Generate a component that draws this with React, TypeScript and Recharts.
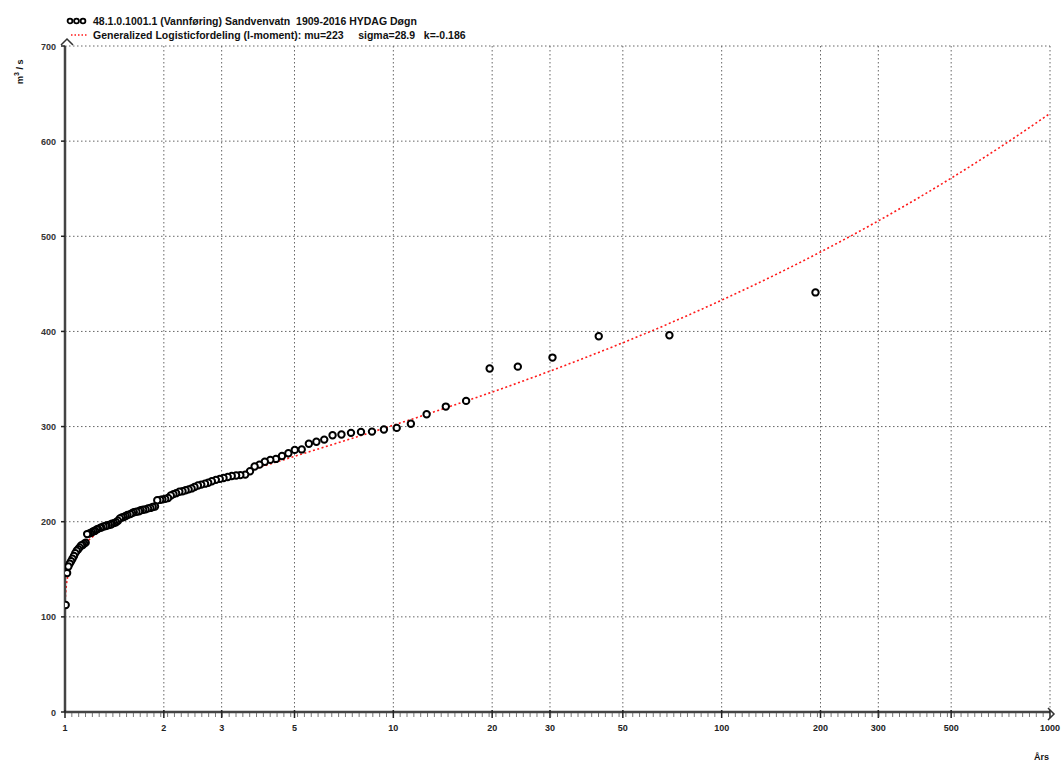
import React from "react";
import {
  CartesianGrid,
  ComposedChart,
  Line,
  Scatter,
  XAxis,
  YAxis,
} from "recharts";

// observed annual maxima, sorted from largest to smallest, with plotted return periods (years)
const returnPeriods = [
  193.07, 69.31, 42.23, 30.53, 23.94, 19.65, 16.66, 14.45, 12.63, 11.31,
  10.24, 9.36, 8.61, 7.97, 7.43, 6.95, 6.53, 6.16, 5.83, 5.53,
  5.26, 5.01, 4.79, 4.58, 4.39, 4.22, 4.06, 3.91, 3.78, 3.66,
  3.54, 3.42, 3.32, 3.22, 3.13, 3.04, 2.96, 2.88, 2.8, 2.73,
  2.67, 2.6, 2.54, 2.48, 2.43, 2.38, 2.33, 2.28, 2.23, 2.18,
  2.14, 2.1, 2.06, 2.02, 1.98, 1.95, 1.91, 1.88, 1.85, 1.82,
  1.79, 1.76, 1.73, 1.7, 1.68, 1.65, 1.62, 1.6, 1.58, 1.55,
  1.53, 1.51, 1.49, 1.47, 1.45, 1.43, 1.41, 1.39, 1.38, 1.36,
  1.34, 1.33, 1.31, 1.29, 1.28, 1.26, 1.25, 1.235, 1.221, 1.207,
  1.194, 1.181, 1.168, 1.156, 1.144, 1.132, 1.12, 1.108, 1.097, 1.086,
  1.075, 1.065, 1.054, 1.044, 1.034, 1.024, 1.015, 1.005,
];

const observedFlows = [
  441, 396, 395, 372.5, 363, 361, 327, 321, 313, 303,
  298.6, 297, 294.7, 294.4, 293.4, 291.6, 290.9, 286.3, 284, 282,
  276, 275.5, 272, 269, 266, 265, 263, 260, 258, 253,
  249.5, 249, 248.5, 248, 247, 246, 245, 244, 242.5, 241,
  240, 239, 238, 236.5, 235, 234, 233, 232, 231.5, 230,
  229, 227.5, 225, 224, 223.5, 223, 222.5, 216, 215.5, 214.5,
  214, 213, 212.5, 212, 211, 210.5, 210, 209, 208, 207,
  206, 205, 204.5, 203.5, 201, 199.5, 198.5, 198, 197, 196.5,
  196, 195.5, 195, 194, 193.5, 192.5, 192, 190.5, 190, 189,
  188, 187.5, 187, 178, 177, 175.5, 175, 173, 171, 169.5,
  167, 164, 161, 158.5, 156, 153, 146, 112.5,
];

// fitted generalized logistic curve, read along its length
const curvePeriods = [
  1.003, 1.005, 1.01, 1.02, 1.03, 1.05, 1.07, 1.1, 1.15, 1.2,
  1.3, 1.4, 1.5, 1.7, 2, 2.5, 3, 4, 5, 7,
  10, 15, 20, 30, 50, 70, 100, 150, 200, 300,
  500, 700, 1000,
];
const curveFlows = [
  121, 125.6, 133.6, 142.7, 148.6, 156.6, 162.4, 168.9, 176.8, 182.8,
  191.8, 198.7, 204.2, 213, 223, 235.2, 244.4, 258.2, 268.7, 284.4,
  301.4, 321.5, 336.3, 358.3, 388.1, 409.1, 432.9, 461.7, 483.5, 516.2,
  561.1, 593, 629.1,
];

const xTicks = [1, 2, 3, 5, 10, 20, 30, 50, 100, 200, 300, 500, 1000];
const yTicks = [0, 100, 200, 300, 400, 500, 600, 700];

const seriesLabel = "48.1.0.1001.1 (Vannføring) Sandvenvatn  1909-2016 HYDAG Døgn";
const fitLabel = "Generalized Logisticfordeling (l-moment): mu=223     sigma=28.9   k=-0.186";

const FONT = "'Liberation Sans', Arial, sans-serif";

const scatterData = returnPeriods.map((t, i) => ({ x: t, y: observedFlows[i] }));
const curveData = curvePeriods.map((t, i) => ({ x: t, y: curveFlows[i] }));

// minor tick marks along the return-period axis, evenly spaced in log units
const minorTicks: number[] = [];
for (let k = 1; k < 144; k++) minorTicks.push(Math.pow(10, k / 48));
const allXTicks = Array.from(new Set([...minorTicks, ...xTicks])).sort((a, b) => a - b);
const isMajor = (v: number) => xTicks.some((t) => Math.abs(t - v) < 1e-9);

function Ring(props: any) {
  const { cx, cy } = props;
  if (cx == null || cy == null) return null;
  return <circle cx={cx} cy={cy} r={3.2} fill="#fff" stroke="#000" strokeWidth={2} />;
}

function XTick(props: any) {
  const { x, y, payload } = props;
  const major = isMajor(payload.value);
  // y is the axis line position
  return (
    <g>
      {major ? (
        <>
          <line x1={x} y1={y - 4} x2={x} y2={y + 4} stroke="#222" strokeWidth={1.5} />
          <text x={x} y={y + 17} textAnchor="middle" fontFamily={FONT} fontWeight="bold" fontSize={9} fill="#222">
            {payload.value}
          </text>
        </>
      ) : (
        <line x1={x} y1={y - 1} x2={x} y2={y + 3} stroke="#555" strokeWidth={0.8} />
      )}
      {payload.value === 1000 ? (
        <path d={`M${x - 2},${y - 6} L${x + 4},${y} L${x - 2},${y + 6}`} stroke="#333" strokeWidth={1.5} fill="none" />
      ) : null}
    </g>
  );
}

function YTick(props: any) {
  const { x, y, payload } = props;
  return (
    <g>
      <text x={x} y={y + 3.5} textAnchor="end" fontFamily={FONT} fontWeight="bold" fontSize={9} fill="#333">
        {payload.value}
      </text>
      {payload.value === 700 ? (
        <path d={`M${x + 5},${y - 1} L${x + 11},${y - 7} L${x + 17},${y - 1}`} stroke="#333" strokeWidth={1.5} fill="none" />
      ) : null}
    </g>
  );
}

export default function App() {
  return (
    <div style={{ position: "absolute", left: 0, top: 0, width: 1062, height: 765, background: "#fff", fontFamily: FONT }}>
      <ComposedChart width={1062} height={765} margin={{ top: 46, right: 12, bottom: 23, left: 0 }}>
        <CartesianGrid
          stroke="#666"
          strokeDasharray="1.5 2.5"
          verticalValues={xTicks}
          horizontalValues={yTicks}
        />
        <XAxis
          type="number"
          dataKey="x"
          scale="log"
          domain={[1, 1000]}
          allowDataOverflow
          ticks={allXTicks}
          interval={0}
          tick={<XTick />}
          tickSize={0}
          tickLine={false}
          axisLine={{ stroke: "#444", strokeWidth: 2.5 }}
          height={30}
        />
        <YAxis
          type="number"
          dataKey="y"
          domain={[0, 700]}
          ticks={yTicks}
          interval={0}
          tick={<YTick />}
          tickSize={4}
          tickMargin={5}
          tickLine={{ stroke: "#222", strokeWidth: 1.5 }}
          axisLine={{ stroke: "#444", strokeWidth: 2.5 }}
          width={65}
        />
        <Line
          data={curveData}
          dataKey="y"
          type="monotone"
          stroke="#ff1a1a"
          strokeWidth={1.6}
          strokeDasharray="2 2.5"
          dot={false}
          activeDot={false}
          isAnimationActive={false}
        />
        <Scatter data={scatterData} dataKey="y" shape={<Ring />} isAnimationActive={false} />
      </ComposedChart>

      {/* legend */}
      <div style={{ position: "absolute", left: 66, top: 14, fontSize: 10.5, fontWeight: "bold", color: "#111", lineHeight: "14px" }}>
        <div style={{ display: "flex", alignItems: "center" }}>
          <svg width={27} height={10}>
            {[4, 10.5, 17].map((cx) => (
              <circle key={cx} cx={cx} cy={5} r={2.4} fill="#fff" stroke="#000" strokeWidth={1.8} />
            ))}
          </svg>
          <span style={{ whiteSpace: "pre" }}>{seriesLabel}</span>
        </div>
        <div style={{ display: "flex", alignItems: "center" }}>
          <svg width={27} height={10}>
            <line x1={5} y1={5} x2={22} y2={5} stroke="#ff1a1a" strokeWidth={1.5} strokeDasharray="1.5 2" />
          </svg>
          <span style={{ whiteSpace: "pre" }}>{fitLabel}</span>
        </div>
      </div>

      {/* axis titles */}
      <div
        style={{
          position: "absolute",
          left: 11,
          top: 84,
          fontSize: 9,
          fontWeight: "bold",
          color: "#111",
          transform: "rotate(-90deg)",
          transformOrigin: "left top",
          whiteSpace: "nowrap",
          lineHeight: "12px",
        }}
      >
        m<sup style={{ fontSize: 7 }}>3</sup> / s
      </div>
      <div style={{ position: "absolute", left: 1034, top: 752, fontSize: 9, fontWeight: "bold", color: "#111" }}>Års</div>
    </div>
  );
}
